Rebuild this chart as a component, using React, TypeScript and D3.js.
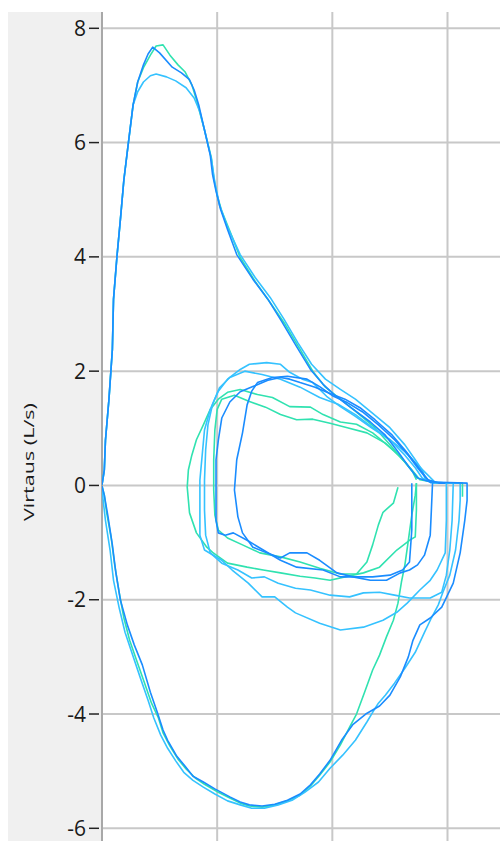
import React from "react";
import * as d3 from "d3";

// ---- data (volume L, flow L/s) ----
const yTicks = [8, 6, 4, 2, 0, -2, -4, -6];
const xGrid = [0, 1, 2, 3];
const yLabel = "Virtaus (L/s)";

const BLUE = "#1a8cff";
const CYAN = "#35c2ff";
const GREEN = "#30e2b0";

const greenForced: [number, number][] = [
  [0, 0.01], [0.02, 0.27], [0.03, 0.79], [0.06, 1.5], [0.09, 2.38], [0.1, 3.26], [0.13, 4.01], [0.16, 4.66], [0.19, 5.35], [0.23, 6.01], [0.27, 6.66],
  [0.31, 7.06], [0.36, 7.31], [0.42, 7.53], [0.47, 7.69], [0.53, 7.71], [0.59, 7.53], [0.66, 7.36], [0.72, 7.24], [0.78, 7.01], [0.82, 6.75], [0.89, 6.22],
  [0.95, 5.73], [0.97, 5.39], [1.0, 5.08], [1.04, 4.8], [1.11, 4.45], [1.2, 3.99], [1.33, 3.57], [1.46, 3.2], [1.59, 2.82], [1.72, 2.38], [1.83, 2.0],
  [1.94, 1.72], [2.07, 1.51], [2.2, 1.3], [2.37, 1.01], [2.52, 0.67], [2.64, 0.39], [2.72, 0.2], [2.76, 0.1], [2.93, 0.04], [3.13, 0.04], [3.13, -0.2],
];
const greenInsp: [number, number][] = [
  [2.73, 0.04], [2.72, -0.17], [2.69, -0.52], [2.66, -0.96], [2.63, -1.39], [2.6, -1.69], [2.57, -2.06], [2.53, -2.36], [2.47, -2.65], [2.41, -2.97],
  [2.35, -3.23], [2.28, -3.62], [2.21, -4.0], [2.15, -4.23], [2.07, -4.54], [1.98, -4.84], [1.89, -5.07], [1.81, -5.26], [1.72, -5.42], [1.61, -5.52],
  [1.5, -5.59], [1.39, -5.63], [1.28, -5.61], [1.2, -5.56], [1.11, -5.47], [1.01, -5.37], [0.89, -5.23], [0.81, -5.12], [0.73, -4.96], [0.66, -4.79],
  [0.59, -4.56], [0.53, -4.33], [0.49, -4.07], [0.43, -3.81], [0.37, -3.46], [0.3, -3.06], [0.24, -2.71], [0.19, -2.32], [0.15, -1.88], [0.11, -1.39],
  [0.08, -0.92], [0.04, -0.47], [0.02, -0.17], [0, -0.01],
];
const greenTidalA: [number, number][] = [
  [2.73, 0.04], [2.73, -0.43], [2.72, -0.9], [2.67, -0.96], [2.56, -1.13], [2.41, -1.43], [2.27, -1.53], [2.11, -1.6], [1.98, -1.66], [1.85, -1.62],
  [1.72, -1.59], [1.55, -1.53], [1.4, -1.48], [1.26, -1.43], [1.09, -1.36], [0.96, -1.17], [0.91, -1.08], [0.82, -0.83], [0.76, -0.48], [0.74, -0.03],
  [0.75, 0.27], [0.78, 0.53], [0.82, 0.8], [0.88, 1.06], [0.94, 1.33], [1.01, 1.51], [1.09, 1.63], [1.2, 1.68], [1.35, 1.59], [1.48, 1.54], [1.63, 1.38],
  [1.81, 1.37], [1.92, 1.24], [2.07, 1.11], [2.21, 1.07], [2.35, 0.92], [2.53, 0.62], [2.63, 0.41], [2.7, 0.23], [2.73, 0.1],
];
const greenTidalB: [number, number][] = [
  [2.57, -0.03], [2.53, -0.31], [2.44, -0.47], [2.4, -0.69], [2.35, -1.04], [2.3, -1.34], [2.21, -1.55], [2.07, -1.55], [1.89, -1.45], [1.72, -1.34],
  [1.55, -1.25], [1.37, -1.18], [1.22, -1.04], [1.09, -0.92], [1.01, -0.78], [0.98, -0.52], [0.97, -0.08], [0.97, 0.45], [0.98, 0.97], [1.0, 1.33],
  [1.04, 1.51], [1.15, 1.58], [1.28, 1.47], [1.42, 1.37], [1.55, 1.24], [1.69, 1.15], [1.83, 1.16], [1.98, 1.09], [2.13, 1.01], [2.3, 0.92],
  [2.46, 0.74], [2.59, 0.5], [2.69, 0.27], [2.74, 0.13],
];

const cyanForced: [number, number][] = [
  [0, 0.01], [0.02, 0.27], [0.03, 0.79], [0.06, 1.5], [0.09, 2.38], [0.1, 3.26], [0.13, 4.01], [0.16, 4.66], [0.19, 5.35], [0.23, 6.01], [0.27, 6.66],
  [0.31, 6.89], [0.36, 7.06], [0.42, 7.17], [0.47, 7.2], [0.56, 7.15], [0.64, 7.08], [0.73, 6.96], [0.8, 6.78], [0.85, 6.54], [0.89, 6.22], [0.95, 5.71],
  [0.98, 5.3], [1.02, 4.91], [1.09, 4.52], [1.2, 4.04], [1.33, 3.64], [1.46, 3.29], [1.58, 2.91], [1.7, 2.5], [1.82, 2.12], [1.94, 1.86], [2.07, 1.68],
  [2.2, 1.51], [2.34, 1.28], [2.5, 1.01], [2.63, 0.71], [2.72, 0.45], [2.78, 0.27], [2.81, 0.1], [2.93, 0.04], [3.11, 0.04],
  [3.11, -0.26], [3.1, -0.61], [3.07, -1.13], [3.02, -1.57], [2.96, -1.87], [2.92, -2.09], [2.86, -2.32], [2.8, -2.57], [2.72, -2.92], [2.63, -3.2],
  [2.54, -3.46], [2.46, -3.67], [2.4, -3.81], [2.35, -3.97], [2.3, -4.14], [2.2, -4.46], [2.09, -4.72], [1.98, -4.95], [1.88, -5.19], [1.76, -5.37],
  [1.65, -5.51], [1.53, -5.59], [1.41, -5.65], [1.3, -5.65], [1.2, -5.59], [1.09, -5.52], [0.98, -5.4], [0.88, -5.28], [0.79, -5.16], [0.71, -5.02],
  [0.64, -4.82], [0.57, -4.6], [0.51, -4.37], [0.45, -4.07], [0.4, -3.76], [0.33, -3.35], [0.26, -2.93], [0.2, -2.57], [0.15, -2.15], [0.1, -1.66],
  [0.07, -1.13], [0.03, -0.61], [0.01, -0.26], [0, -0.01],
];
const cyanTidalA: [number, number][] = [
  [2.99, 0.04], [2.99, -0.61], [2.98, -1.18], [2.91, -1.48], [2.85, -1.66], [2.76, -1.83], [2.65, -2.06], [2.56, -2.22], [2.44, -2.36], [2.27, -2.48],
  [2.07, -2.53], [1.89, -2.41], [1.68, -2.23], [1.61, -2.13], [1.5, -1.95], [1.39, -1.95], [1.27, -1.71], [1.13, -1.48], [1.04, -1.31], [0.89, -1.13],
  [0.85, -0.87], [0.85, -0.43], [0.85, 0.09], [0.87, 0.53], [0.89, 0.97], [0.94, 1.33], [1.01, 1.65], [1.09, 1.86], [1.2, 2.03], [1.28, 2.12],
  [1.43, 2.15], [1.55, 2.12], [1.63, 1.98], [1.74, 1.86], [1.83, 1.8], [1.95, 1.56], [2.07, 1.38], [2.2, 1.21], [2.34, 1.01], [2.5, 0.8],
  [2.63, 0.59], [2.74, 0.36], [2.83, 0.18], [2.89, 0.06], [2.99, 0.04],
];
const cyanTidalB: [number, number][] = [
  [3.05, 0.04], [3.04, -0.61], [3.02, -1.13], [2.99, -1.57], [2.95, -1.87], [2.85, -1.97], [2.67, -1.97], [2.54, -1.92], [2.41, -1.87], [2.27, -1.88],
  [2.15, -1.95], [1.98, -1.92], [1.81, -1.83], [1.68, -1.8], [1.53, -1.71], [1.41, -1.6], [1.3, -1.62], [1.18, -1.48], [1.04, -1.36], [0.94, -1.18],
  [0.9, -0.87], [0.89, -0.43], [0.89, 0.09], [0.9, 0.62], [0.92, 1.06], [0.96, 1.42], [1.02, 1.71], [1.11, 1.89], [1.24, 2.0], [1.39, 1.94],
  [1.55, 1.86], [1.72, 1.72], [1.89, 1.54], [2.05, 1.42], [2.2, 1.24], [2.34, 1.03], [2.5, 0.8], [2.63, 0.53], [2.72, 0.31], [2.78, 0.13],
  [2.87, 0.04], [3.05, 0.04],
];

const blueForced: [number, number][] = [
  [0, 0.01], [0.02, 0.27], [0.03, 0.79], [0.06, 1.5], [0.09, 2.38], [0.1, 3.26], [0.13, 4.01], [0.16, 4.66], [0.19, 5.35], [0.23, 6.01], [0.27, 6.66],
  [0.31, 7.06], [0.36, 7.36], [0.4, 7.55], [0.44, 7.67], [0.5, 7.57], [0.61, 7.32], [0.69, 7.22], [0.76, 7.1], [0.8, 6.92], [0.84, 6.66], [0.89, 6.22],
  [0.94, 5.78], [0.96, 5.44], [0.99, 5.15], [1.03, 4.83], [1.09, 4.48], [1.17, 4.04], [1.31, 3.61], [1.44, 3.26], [1.56, 2.87], [1.69, 2.43],
  [1.81, 2.03], [1.92, 1.77], [2.02, 1.58], [2.15, 1.38], [2.33, 1.11], [2.46, 0.88], [2.57, 0.59], [2.67, 0.31], [2.74, 0.13], [2.85, 0.06], [3.17, 0.04],
  [3.17, -0.26], [3.15, -0.61], [3.11, -1.18], [3.05, -1.71], [2.95, -2.13], [2.85, -2.32], [2.76, -2.44], [2.7, -2.71], [2.66, -3.0], [2.59, -3.35],
  [2.5, -3.67], [2.41, -3.86], [2.29, -4.0], [2.18, -4.18], [2.08, -4.46], [1.98, -4.81], [1.89, -5.05], [1.81, -5.24], [1.72, -5.4], [1.61, -5.51],
  [1.5, -5.58], [1.39, -5.61], [1.28, -5.59], [1.2, -5.54], [1.11, -5.45], [0.98, -5.31], [0.88, -5.19], [0.79, -5.09], [0.72, -4.91], [0.65, -4.74],
  [0.57, -4.46], [0.53, -4.28], [0.48, -3.97], [0.42, -3.62], [0.35, -3.14], [0.28, -2.79], [0.22, -2.44], [0.16, -2.01], [0.12, -1.52], [0.09, -1.04],
  [0.05, -0.52], [0.02, -0.17], [0, -0.01],
];
const blueTidalA: [number, number][] = [
  [2.87, 0.04], [2.86, -0.43], [2.85, -0.87], [2.8, -1.22], [2.74, -1.39], [2.67, -1.48], [2.59, -1.53], [2.47, -1.66], [2.33, -1.66], [2.18, -1.6],
  [2.04, -1.53], [1.89, -1.31], [1.78, -1.18], [1.63, -1.18], [1.55, -1.27], [1.43, -1.18], [1.31, -1.08], [1.22, -0.83], [1.18, -0.55], [1.15, -0.08],
  [1.17, 0.45], [1.22, 0.92], [1.26, 1.41], [1.3, 1.65], [1.35, 1.8], [1.48, 1.89], [1.61, 1.91], [1.78, 1.86], [1.89, 1.73], [2.01, 1.56],
  [2.13, 1.45], [2.26, 1.29], [2.4, 1.06], [2.54, 0.8], [2.66, 0.53], [2.74, 0.31], [2.8, 0.16], [2.86, 0.04],
];
const blueTidalB: [number, number][] = [
  [2.69, 0.04], [2.69, -0.78], [2.67, -1.34], [2.61, -1.48], [2.5, -1.57], [2.35, -1.6], [2.21, -1.6], [2.07, -1.6], [1.92, -1.48], [1.69, -1.43],
  [1.55, -1.31], [1.4, -1.13], [1.26, -0.96], [1.14, -0.83], [1.07, -0.87], [1.01, -0.83], [0.99, -0.61], [0.99, -0.08], [0.99, 0.45], [1.01, 0.79],
  [1.04, 1.18], [1.11, 1.46], [1.2, 1.64], [1.31, 1.73], [1.44, 1.84], [1.55, 1.89], [1.63, 1.86], [1.72, 1.8], [1.85, 1.72], [1.98, 1.61],
  [2.11, 1.51], [2.24, 1.36], [2.37, 1.15], [2.52, 0.88], [2.63, 0.62], [2.72, 0.39], [2.78, 0.23], [2.83, 0.1], [2.93, 0.04], [2.98, 0.04],
];

const series: { color: string; points: [number, number][] }[] = [
  { color: GREEN, points: greenTidalA },
  { color: GREEN, points: greenTidalB },
  { color: GREEN, points: greenInsp },
  { color: GREEN, points: greenForced },
  { color: CYAN, points: cyanTidalA },
  { color: CYAN, points: cyanTidalB },
  { color: CYAN, points: cyanForced },
  { color: BLUE, points: blueTidalA },
  { color: BLUE, points: blueTidalB },
  { color: BLUE, points: blueForced },
];

export default function App() {
  const W = 500;
  const H = 841;
  const plotLeft = 102;
  const plotTop = 12;
  const x = d3.scaleLinear().domain([0, 3]).range([102, 447.5]);
  const y = d3.scaleLinear().domain([-6, 8]).range([828.3, 28.3]);
  const line = d3
    .line<[number, number]>()
    .x((d) => x(d[0]))
    .y((d) => y(d[1]));

  return (
    <svg
      width={W}
      height={H}
      style={{ position: "absolute", left: 0, top: 0, display: "block" }}
    >
      <rect x={0} y={0} width={W} height={H} fill="#ffffff" />
      <rect x={8} y={plotTop} width={plotLeft - 8} height={H - plotTop} fill="#f0f0f0" />
      <defs>
        <clipPath id="plotclip">
          <rect x={plotLeft} y={plotTop} width={W - plotLeft} height={H - plotTop} />
        </clipPath>
      </defs>
      {/* grid */}
      {yTicks.map((t) => (
        <line
          key={"h" + t}
          x1={plotLeft}
          x2={W}
          y1={y(t)}
          y2={y(t)}
          stroke="#c8c8c8"
          strokeWidth={2}
        />
      ))}
      {xGrid.slice(1).map((t) => (
        <line
          key={"v" + t}
          x1={x(t)}
          x2={x(t)}
          y1={plotTop}
          y2={H}
          stroke="#c8c8c8"
          strokeWidth={2}
        />
      ))}
      <line x1={plotLeft} x2={plotLeft} y1={plotTop} y2={H} stroke="#a8a8a8" strokeWidth={2} />
      {/* ticks & labels */}
      {yTicks.map((t) => (
        <g key={"t" + t}>
          <line x1={89} x2={99} y1={y(t)} y2={y(t)} stroke="#222" strokeWidth={1.5} />
          <text
            x={86}
            y={y(t)}
            dy="0.36em"
            textAnchor="end"
            fontFamily="'Open Sans', 'DejaVu Sans', sans-serif"
            fontSize={21}
            fill="#1a1a1a"
          >
            {String(t)}
          </text>
        </g>
      ))}
      <text
        transform={`translate(34, 462) rotate(-90)`}
        textAnchor="middle"
        fontFamily="'Open Sans', 'DejaVu Sans', sans-serif"
        fontSize={15}
        textLength={118}
        lengthAdjust="spacingAndGlyphs"
        fill="#1a1a1a"
      >
        {yLabel}
      </text>
      {/* curves */}
      <g clipPath="url(#plotclip)">
        {series.map((s, i) => (
          <path
            key={i}
            d={line(s.points) || ""}
            fill="none"
            stroke={s.color}
            strokeWidth={1.6}
            strokeLinejoin="round"
          />
        ))}
      </g>
    </svg>
  );
}
